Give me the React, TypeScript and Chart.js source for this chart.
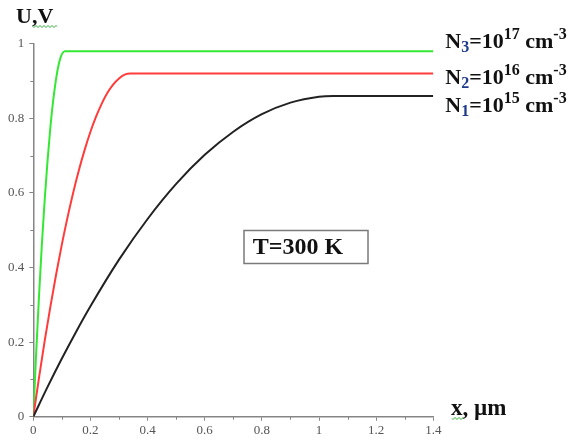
import { useEffect, useRef } from "react";
import { Chart, registerables } from "chart.js";

Chart.register(...registerables);

// Potential U (V) versus depth x (µm) for three doping levels at T = 300 K
const xN1 = [0, 0.05, 0.1, 0.15, 0.2, 0.3, 0.4, 0.5, 0.6, 0.7, 0.8, 0.9, 1.0, 1.05, 1.4];
const uN1 = [0, 0.08, 0.156, 0.228, 0.296, 0.421, 0.53, 0.624, 0.702, 0.764, 0.811, 0.842, 0.858, 0.86, 0.86];

const xN2 = [0, 0.02, 0.04, 0.06, 0.08, 0.1, 0.12, 0.14, 0.16, 0.18, 0.2, 0.22, 0.24, 0.26, 0.28, 0.3, 0.32, 0.34, 1.4];
const uN2 = [0, 0.105, 0.204, 0.296, 0.382, 0.462, 0.535, 0.602, 0.662, 0.716, 0.764, 0.805, 0.84, 0.869, 0.891, 0.907, 0.917, 0.92, 0.92];

const xN3 = [0, 0.01, 0.02, 0.03, 0.04, 0.05, 0.06, 0.07, 0.08, 0.09, 0.1, 0.11, 1.4];
const uN3 = [0, 0.17, 0.324, 0.462, 0.583, 0.688, 0.778, 0.85, 0.907, 0.948, 0.972, 0.98, 0.98];

const xTickLabels = ["0", "0.2", "0.4", "0.6", "0.8", "1", "1.2", "1.4"];
const yTickLabels = ["0", "0.2", "0.4", "0.6", "0.8", "1"];
const xMinor = [0.1, 0.3, 0.5, 0.7, 0.9, 1.1, 1.3];
const yMinor = [0.1, 0.3, 0.5, 0.7, 0.9];

const AXIS = "#858585";
const SERIF = "'Liberation Serif', 'DejaVu Serif', serif";

type Part = { t: string; k: "n" | "sub" | "sup" };

const seriesLabels: { parts: Part[]; baseline: number }[] = [
  {
    parts: [
      { t: "N", k: "n" }, { t: "3", k: "sub" }, { t: "=10", k: "n" },
      { t: "17", k: "sup" }, { t: " cm", k: "n" }, { t: "-3", k: "sup" },
    ],
    baseline: 48,
  },
  {
    parts: [
      { t: "N", k: "n" }, { t: "2", k: "sub" }, { t: "=10", k: "n" },
      { t: "16", k: "sup" }, { t: " cm", k: "n" }, { t: "-3", k: "sup" },
    ],
    baseline: 84,
  },
  {
    parts: [
      { t: "N", k: "n" }, { t: "1", k: "sub" }, { t: "=10", k: "n" },
      { t: "15", k: "sup" }, { t: " cm", k: "n" }, { t: "-3", k: "sup" },
    ],
    baseline: 112,
  },
];

function toPoints(xs: number[], ys: number[]) {
  return xs.map((x, i) => ({ x, y: ys[i] }));
}

function drawRich(ctx: CanvasRenderingContext2D, parts: Part[], x: number, baseline: number, size: number) {
  let cx = x;
  for (const p of parts) {
    const s = p.k === "n" ? size : Math.round(size * 0.72);
    ctx.font = `bold ${s}px ${SERIF}`;
    ctx.fillStyle = p.k === "sub" ? "#1e3a8a" : "#111";
    const dy = p.k === "sup" ? -size * 0.4 : p.k === "sub" ? size * 0.2 : 0;
    ctx.fillText(p.t, cx, baseline + dy);
    cx += ctx.measureText(p.t).width;
  }
}

function wavy(ctx: CanvasRenderingContext2D, x0: number, x1: number, y: number) {
  ctx.beginPath();
  for (let x = x0; x <= x1; x += 0.5) {
    const yy = y + Math.sin(((x - x0) / 4) * Math.PI * 2) * 1;
    if (x === x0) ctx.moveTo(x, yy);
    else ctx.lineTo(x, yy);
  }
  ctx.strokeStyle = "#3cb043";
  ctx.lineWidth = 1;
  ctx.stroke();
}

const overlay = {
  id: "overlay",
  afterDraw(chart: Chart) {
    const ctx = chart.ctx;
    const area = chart.chartArea;
    const xs = chart.scales.x;
    const ys = chart.scales.y;
    ctx.save();

    // minor ticks
    ctx.strokeStyle = AXIS;
    ctx.lineWidth = 1;
    ctx.beginPath();
    for (const v of xMinor) {
      const px = Math.round(xs.getPixelForValue(v)) + 0.5;
      ctx.moveTo(px, area.bottom);
      ctx.lineTo(px, area.bottom + 3);
    }
    for (const v of yMinor) {
      const py = Math.round(ys.getPixelForValue(v)) + 0.5;
      ctx.moveTo(area.left, py);
      ctx.lineTo(area.left - 3, py);
    }
    ctx.stroke();

    // axis titles
    ctx.textAlign = "left";
    ctx.textBaseline = "alphabetic";
    ctx.fillStyle = "#111";
    ctx.font = `bold 22px ${SERIF}`;
    ctx.fillText("U,V", 16, 23);
    wavy(ctx, 33, 57, 26.5);

    ctx.fillStyle = "#111";
    ctx.font = `bold 23px ${SERIF}`;
    ctx.fillText("x, \u00b5m", 451, 415);
    wavy(ctx, 452, 464, 418.5);

    // series labels
    for (const l of seriesLabels) {
      drawRich(ctx, l.parts, area.right + 12, l.baseline, 22);
    }

    // temperature box
    ctx.strokeStyle = "#7a7a7a";
    ctx.lineWidth = 1.5;
    ctx.strokeRect(244, 230.5, 124, 33);
    ctx.fillStyle = "#111";
    ctx.font = `bold 24px ${SERIF}`;
    ctx.textAlign = "center";
    ctx.fillText("T=300 K", 298, 254);

    ctx.restore();
  },
};

export default function App() {
  const ref = useRef<HTMLCanvasElement | null>(null);

  useEffect(() => {
    if (!ref.current) return;
    const line = (data: number[], xsv: number[], color: string) => ({
      data: toPoints(xsv, data),
      borderColor: color,
      borderWidth: 2,
      pointRadius: 0,
      fill: false,
      cubicInterpolationMode: "monotone" as const,
    });
    const chart = new Chart(ref.current, {
      type: "line",
      data: {
        datasets: [
          line(uN1, xN1, "#222222"),
          line(uN2, xN2, "#ff3b3b"),
          line(uN3, xN3, "#33e833"),
        ],
      },
      options: {
        animation: false,
        responsive: false,
        parsing: false as any,
        layout: { padding: { left: 0, right: 144.7, top: 43.7, bottom: 0 } },
        plugins: { legend: { display: false }, tooltip: { enabled: false } },
        scales: {
          x: {
            type: "linear",
            min: 0,
            max: 1.4,
            afterFit: (s: any) => {
              s.height = 25.3;
            },
            ticks: {
              stepSize: 0.2,
              maxRotation: 0,
              autoSkip: false,
              padding: 2,
              color: "#555",
              font: { family: SERIF, size: 13 },
              callback: (_v: any, i: number) => xTickLabels[i],
            },
            grid: { drawOnChartArea: false, drawTicks: true, tickLength: 4, color: AXIS },
            border: { display: true, color: AXIS, width: 1.5 },
          },
          y: {
            type: "linear",
            min: 0,
            max: 1,
            afterFit: (s: any) => {
              s.width = 33.3;
            },
            ticks: {
              stepSize: 0.2,
              autoSkip: false,
              padding: 5,
              color: "#555",
              font: { family: SERIF, size: 13 },
              callback: (_v: any, i: number) => yTickLabels[i],
            },
            grid: { drawOnChartArea: false, drawTicks: true, tickLength: 4, color: AXIS },
            border: { display: true, color: AXIS, width: 1.5 },
          },
        },
      },
      plugins: [overlay],
    });
    return () => chart.destroy();
  }, []);

  return (
    <div style={{ position: "absolute", left: 0, top: 0, width: 578, height: 442, background: "#fff" }}>
      <canvas ref={ref} width={578} height={442} />
    </div>
  );
}
